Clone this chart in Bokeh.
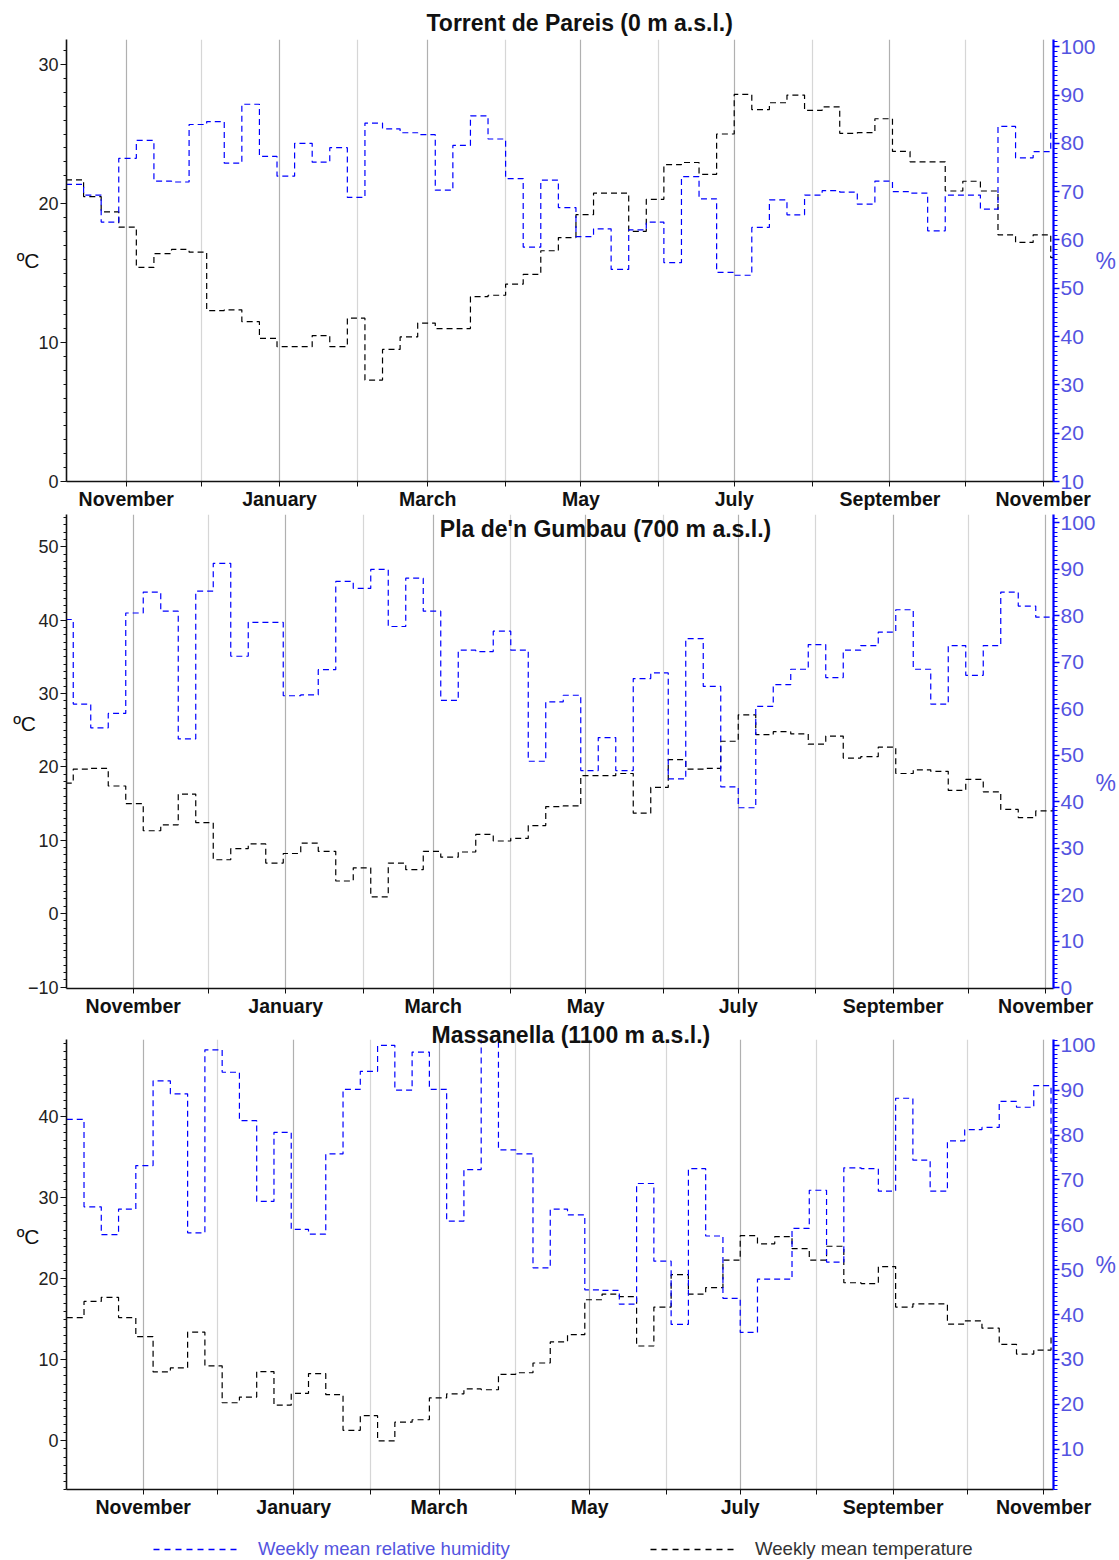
import numpy as np
from bokeh.plotting import figure
from bokeh.layouts import column
from bokeh.models import (Range1d, LinearAxis, FixedTicker, SingleIntervalTicker,
                          Grid, Label, Legend, LegendItem, Title)
from bokeh.embed import file_html
from bokeh.resources import INLINE

# ---------------- data ----------------
# x axis: days relative to 1 November; weekly means
month_days = [0, 30, 61, 92, 120, 151, 181, 212, 242, 273, 304, 334, 365]
month_labels = ["November", "", "January", "", "March", "", "May", "", "July", "",
                "September", "", "November"]
first_week_day = -24          # start day of week 0 (relative to 1 Nov)

# Torrent de Pareis (0 m a.s.l.) -- series start at week 0
temp_torrent = [21.7, 20.5, 19.4, 18.3, 15.4, 16.4, 16.7, 16.5, 12.3, 12.35,
                11.5, 10.3, 9.7, 9.7, 10.5, 9.7, 11.75, 7.3, 9.5, 10.4,
                11.4, 11.0, 11.0, 13.3, 13.4, 14.2, 14.9, 16.6, 17.55, 19.2,
                20.75, 20.75, 18.0, 20.3, 22.8, 22.95, 22.1, 25.0, 27.85, 26.75,
                27.25, 27.8, 26.7, 26.95, 25.05, 25.1, 26.1, 23.75, 23.0, 23.0,
                20.9, 21.6, 20.9, 17.75, 17.2, 17.75, 16.1]
hum_torrent = [71.5, 69.3, 63.7, 76.9, 80.6, 72.2, 72.0, 83.9, 84.5, 75.9,
               88.1, 77.3, 73.2, 80.0, 76.1, 79.1, 68.8, 84.2, 83.0, 82.2,
               81.8, 70.3, 79.6, 85.7, 80.9, 72.7, 58.5, 72.4, 66.7, 60.7,
               62.3, 53.9, 62.1, 63.7, 55.3, 73.1, 68.5, 53.3, 52.7, 62.6,
               68.3, 65.2, 69.3, 70.2, 69.9, 67.4, 72.2, 70.0, 69.7, 61.9,
               69.3, 69.3, 66.4, 83.5, 77.0, 78.3, 82.6]

# Pla de'n Gumbau (700 m a.s.l.) -- series start at week -1
temp_gumbau = [17.8,
               19.7, 19.8, 17.4, 15.0, 11.3, 12.1, 16.3, 12.4, 7.35, 8.85,
               9.5, 6.9, 8.2, 9.6, 8.5, 4.45, 6.25, 2.3, 6.9, 6.0,
               8.5, 7.7, 8.4, 10.8, 9.9, 10.25, 12.0, 14.6, 14.7, 18.8,
               18.8, 19.1, 13.7, 17.2, 21.0, 19.7, 19.8, 23.5, 27.1, 24.4,
               24.8, 24.5, 23.1, 24.2, 21.2, 21.4, 22.7, 19.1, 19.6, 19.4,
               16.8, 18.3, 16.6, 14.2, 13.1, 14.0, 14.7]
hum_gumbau = [79.2,
              61.0, 55.9, 59.0, 80.6, 85.1, 81.0, 53.5, 85.3, 91.3, 71.3,
              78.6, 78.6, 62.8, 63.0, 68.4, 87.4, 85.9, 90.0, 77.7, 88.1,
              81.0, 61.8, 72.6, 72.3, 76.7, 72.6, 48.7, 61.5, 62.9, 46.7,
              53.8, 46.7, 66.5, 67.7, 44.9, 75.1, 64.8, 43.2, 38.7, 60.5,
              65.2, 68.5, 73.8, 66.7, 72.6, 73.6, 76.5, 81.3, 68.5, 61.0,
              73.6, 67.2, 73.6, 85.1, 82.1, 79.7, 74.0]

# Massanella (1100 m a.s.l.) -- series start at week -1
temp_massanella = [15.2,
                   17.2, 17.7, 15.2, 12.85, 8.5, 9.0, 13.4, 9.25, 4.7, 5.4,
                   8.55, 4.4, 5.85, 8.3, 5.7, 1.3, 3.1, 0.0, 2.3, 2.6,
                   5.3, 5.8, 6.4, 6.3, 8.2, 8.4, 9.6, 12.2, 13.1, 17.4,
                   18.1, 17.8, 11.7, 16.5, 20.5, 18.1, 18.9, 22.3, 25.3, 24.3,
                   25.2, 23.7, 22.3, 24.0, 19.5, 19.4, 21.5, 16.5, 16.9, 16.9,
                   14.4, 14.8, 13.9, 11.9, 10.7, 11.2, 12.9]
hum_massanella = [83.5,
                  64.0, 57.8, 63.5, 73.2, 92.1, 89.2, 58.2, 99.0, 94.0, 83.2,
                  65.2, 80.6, 59.0, 57.9, 75.8, 90.2, 94.2, 100.0, 90.0, 98.5,
                  90.2, 60.8, 72.3, 102.0, 76.7, 75.8, 50.4, 63.5, 62.2, 45.5,
                  45.4, 42.3, 69.2, 51.9, 37.8, 72.5, 57.5, 43.6, 36.0, 47.9,
                  47.9, 59.2, 67.7, 51.7, 72.7, 72.5, 67.5, 88.2, 74.4, 67.5,
                  78.7, 81.2, 81.7, 87.5, 86.2, 91.0, 74.2]

FONT = "Liberation Sans"
HUM_COLOR = "#0000ff"
HUM_TEXT = "#5454e0"
DASH = "6 4"


def step_xy(values, k0):
    n = len(values)
    xs = first_week_day + 7 * (k0 + np.arange(n + 1))
    return xs, list(values) + [values[-1]]


def make_panel(temps, hums, k0, xr, tr, hr, height, b_top, b_bottom,
               degc_text, degc_standoff, pct_text):
    p = figure(width=1119, height=height, output_backend="svg", toolbar_location=None,
               x_range=Range1d(*xr), y_range=Range1d(*tr),
               min_border_left=66, min_border_right=66,
               min_border_top=b_top, min_border_bottom=b_bottom)
    p.outline_line_color = None
    p.ygrid.visible = False

    # vertical month grid: labelled months darker, others lighter
    p.xgrid.ticker = FixedTicker(ticks=month_days[0::2])
    p.xgrid.grid_line_color = "#b0b0b0"
    p.xgrid.grid_line_width = 1.2
    g2 = Grid(dimension=0, ticker=FixedTicker(ticks=month_days[1::2]),
              grid_line_color="#d6d6d6", grid_line_width=1.2)
    p.add_layout(g2)

    xa = p.xaxis[0]
    xa.ticker = FixedTicker(ticks=month_days)
    xa.major_label_overrides = {d: n for d, n in zip(month_days, month_labels)}
    xa.minor_tick_line_color = None
    xa.major_tick_in = 0
    xa.major_tick_out = 5
    xa.major_label_standoff = 1
    xa.major_label_text_font = FONT
    xa.major_label_text_font_style = "bold"
    xa.major_label_text_font_size = "19.5px"
    xa.major_label_text_color = "#111111"
    xa.axis_line_width = 1.6
    xa.axis_line_color = "#111111"
    xa.major_tick_line_color = "#111111"

    ya = p.yaxis[0]
    ya.ticker = SingleIntervalTicker(interval=10, num_minor_ticks=10)
    ya.major_tick_in = 0
    ya.major_tick_out = 6
    ya.minor_tick_in = 0
    ya.minor_tick_out = 3
    ya.major_label_standoff = 2
    ya.major_label_text_font = FONT
    ya.major_label_text_font_size = "18px"
    ya.major_label_text_color = "#222222"
    ya.axis_line_width = 1.6
    ya.axis_line_color = "#111111"
    ya.major_tick_line_color = "#111111"
    ya.minor_tick_line_color = "#111111"
    ya.axis_label = degc_text
    ya.axis_label_orientation = "horizontal"
    ya.axis_label_standoff = degc_standoff
    ya.axis_label_text_font = FONT
    ya.axis_label_text_font_style = "normal"
    ya.axis_label_text_font_size = "21px"
    ya.axis_label_text_color = "#111111"

    p.extra_y_ranges = {"hum": Range1d(*hr)}
    ra = LinearAxis(y_range_name="hum",
                    ticker=SingleIntervalTicker(interval=10, num_minor_ticks=10))
    ra.major_tick_in = 0
    ra.major_tick_out = 6
    ra.minor_tick_in = 0
    ra.minor_tick_out = 4
    ra.major_label_standoff = 1
    ra.major_label_text_font = FONT
    ra.major_label_text_font_size = "21px"
    ra.major_label_text_color = HUM_TEXT
    ra.axis_line_color = HUM_COLOR
    ra.axis_line_width = 2.2
    ra.major_tick_line_color = HUM_COLOR
    ra.minor_tick_line_color = HUM_COLOR
    ra.major_tick_line_width = 1.5
    ra.axis_label = pct_text
    ra.axis_label_orientation = "horizontal"
    ra.axis_label_standoff = -3
    ra.axis_label_text_font = FONT
    ra.axis_label_text_font_style = "normal"
    ra.axis_label_text_font_size = "23px"
    ra.axis_label_text_color = HUM_TEXT
    p.add_layout(ra, "right")

    # weekly step series
    xt, yt = step_xy(temps, k0)
    xh, yh = step_xy(hums, k0)
    p.step(xt, yt, mode="after", line_color="black", line_dash=DASH, line_width=1.2)
    p.step(xh, yh, mode="after", line_color=HUM_COLOR, line_dash=DASH,
           line_width=1.2, y_range_name="hum")
    return p


def title_obj(text, offset, standoff):
    return Title(text=text, align="left", offset=offset, standoff=standoff,
                 text_font=FONT, text_font_style="bold", text_font_size="23px",
                 text_color="#111111")


p1 = make_panel(temp_torrent, hum_torrent, 0,
                (-23.8, 369.1), (0, 31.8), (10, 101.5),
                512, 39, 29, "ºC", -4, "%")
p1.add_layout(title_obj("Torrent de Pareis (0 m a.s.l.)", 360, 7), "above")

p2 = make_panel(temp_gumbau, hum_gumbau, -1,
                (-26.7, 368.1), (-10.2, 54.4), (-0.2, 101.8),
                508, 2, 32, "ºC\n\n", -11, "\n\n%")
p2.add_layout(Label(x=539, y=460, x_units="screen", y_units="screen",
                    text="Pla de'n Gumbau (700 m a.s.l.)", text_font=FONT,
                    text_font_style="bold", text_font_size="23px", text_color="#111111",
                    text_align="center", text_baseline="middle"))

p3 = make_panel(temp_massanella, hum_massanella, -1,
                (-31.1, 369.0), (-6.0, 49.5), (1.0, 101.3),
                500, 19, 31, "ºC\n\n", -4, "%")
p3.add_layout(title_obj("Massanella (1100 m a.s.l.)", 365, -16), "above")

# legend strip: the series are drawn here far outside the visible range,
# only so that the legend can show their line styles
p4 = figure(width=1119, height=40, output_backend="svg", toolbar_location=None,
            x_range=Range1d(-31.1, 369.0), y_range=Range1d(1000, 1001),
            x_axis_location=None, y_axis_location=None,
            min_border_left=66, min_border_right=66, min_border_top=0, min_border_bottom=0)
p4.outline_line_color = None
p4.grid.visible = False
xh4, yh4 = step_xy(hum_massanella, -1)
xt4, yt4 = step_xy(temp_massanella, -1)
lh = p4.line(xh4, yh4, line_color=HUM_COLOR, line_dash="6 5", line_width=1.3)
lt = p4.line(xt4, yt4, line_color="black", line_dash="6 5", line_width=1.3)
common = dict(orientation="horizontal", glyph_width=84, glyph_height=20,
              label_standoff=21, padding=0, margin=0, border_line_color=None,
              background_fill_alpha=0, label_text_font=FONT,
              label_text_font_size="18.6px")
p4.add_layout(Legend(items=[LegendItem(label="Weekly mean relative humidity", renderers=[lh])],
                     location=(87, 0), label_text_color=HUM_TEXT, **common))
p4.add_layout(Legend(items=[LegendItem(label="Weekly mean temperature", renderers=[lt])],
                     location=(584, 0), label_text_color="#333333", **common))

layout = column(p1, p2, p3, p4, spacing=0)
open("out.html", "w").write(file_html(layout, INLINE))
